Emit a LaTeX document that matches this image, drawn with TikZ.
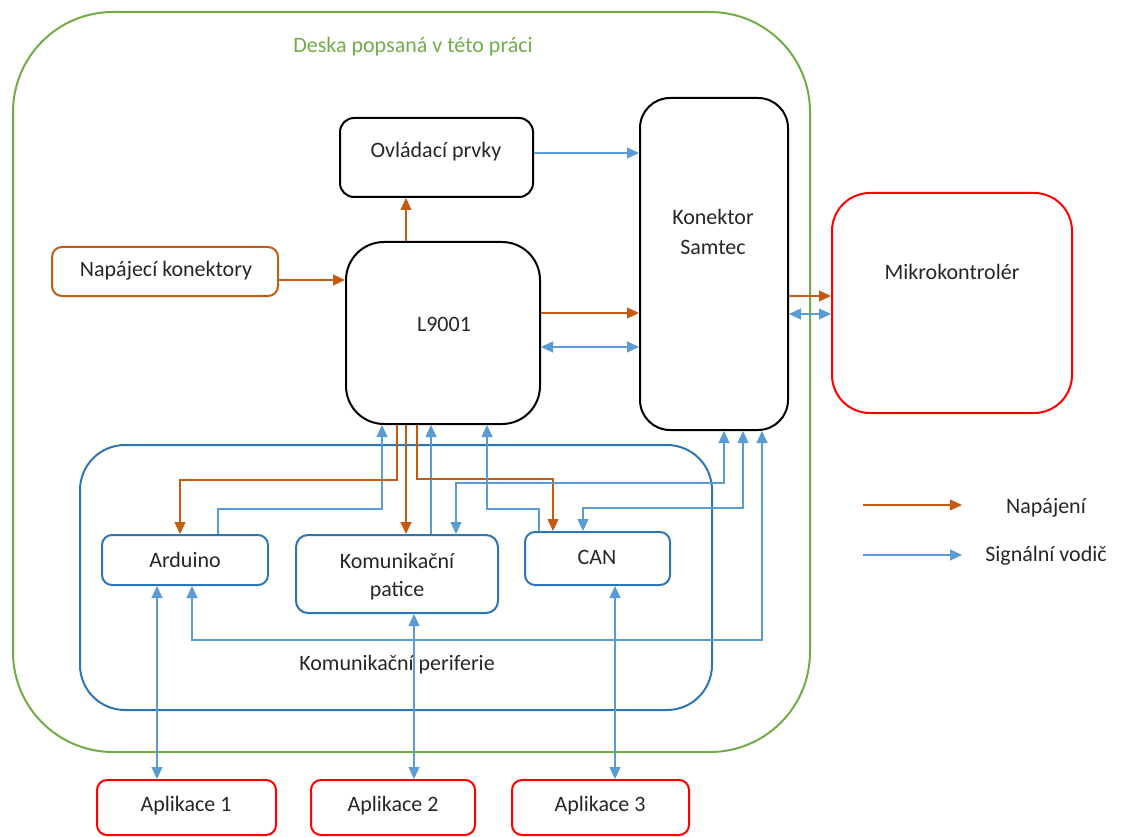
\documentclass[tikz,border=0pt]{standalone}
\usepackage{fontspec}
\setmainfont{Carlito}
\usetikzlibrary{arrows.meta}
\definecolor{txt}{HTML}{262626}
\definecolor{org}{HTML}{C55A11}
\definecolor{sig}{HTML}{5B9BD5}
\definecolor{perB}{HTML}{2E75B6}
\definecolor{grn}{HTML}{70AD47}
\definecolor{rd}{HTML}{FF0000}
\begin{document}
\begin{tikzpicture}[x=1pt,y=-1pt,
  font=\fontsize{22}{26}\selectfont, text=txt,
  box/.style={draw, rectangle, line width=2pt, inner sep=0pt},
  blk/.style={box, draw=black},
  per/.style={box, draw=perB},
  app/.style={box, draw=rd, rounded corners=10pt, minimum width=#1, minimum height=55pt},
  lbl/.style={inner sep=0pt, anchor=center},
  pw/.style={draw=org, line width=1.2pt, -{Triangle[length=12pt,width=11pt]}},
  sg/.style={draw=sig, line width=1.1pt, -{Triangle[length=12pt,width=11pt]}},
  sg2/.style={draw=sig, line width=1.1pt, {Triangle[length=12pt,width=11pt]}-{Triangle[length=12pt,width=11pt]}}]
\useasboundingbox (0,0) rectangle (1125,837);

% board
\node[box, draw=grn, rounded corners=100pt, minimum width=797pt, minimum height=740pt] (board) at (411.5,382) {};
\node[lbl, text=grn] (boardlbl) at (413,47) {Deska popsaná v této práci};

% periphery group
\node[per, rounded corners=45pt, minimum width=632pt, minimum height=265pt] (perif) at (396,577.5) {};
\node[lbl] (periflbl) at (397,665) {Komunikační periferie};

% main boxes
\node[blk, rounded corners=14pt, minimum width=193pt, minimum height=79pt] (ovl) at (436.5,157.5) {};
\node[lbl] (ovllbl) at (436,152) {Ovládací prvky};
\node[blk, rounded corners=30pt, minimum width=148pt, minimum height=332pt] (sam) at (714,264) {};
\node[lbl, align=center] (samlbl) at (713,232) {Konektor\\[4pt]Samtec};
\node[box, draw=org, rounded corners=10pt, minimum width=226pt, minimum height=49pt] (nap) at (165,271.5) {};
\node[lbl] (naplbl) at (166,271) {Napájecí konektory};
\node[blk, rounded corners=38pt, minimum width=194pt, minimum height=182pt] (l9) at (443,333) {};
\node[lbl] (l9lbl) at (444,324) {L9001};
\node[box, draw=rd, rounded corners=38pt, minimum width=240pt, minimum height=220pt] (mik) at (952,303) {};
\node[lbl] (miklbl) at (952,272) {Mikrokontrolér};

% peripherals
\node[per, rounded corners=10pt, minimum width=166pt, minimum height=50pt] (ard) at (185,560) {};
\node[lbl] (ardlbl) at (185,560) {Arduino};
\node[per, rounded corners=12pt, minimum width=202pt, minimum height=78pt] (pat) at (397,574) {};
\node[lbl, align=center] (patlbl) at (397,577) {Komunikační\\[2pt]patice};
\node[per, rounded corners=10pt, minimum width=145pt, minimum height=53pt] (can) at (597.5,558.5) {};
\node[lbl] (canlbl) at (597,557) {CAN};

% applications
\node[app=179pt] (a1) at (186.5,807.5) {};
\node[lbl] (a1lbl) at (186,806) {Aplikace 1};
\node[app=164pt] (a2) at (393,807.5) {};
\node[lbl] (a2lbl) at (393,806) {Aplikace 2};
\node[app=177pt] (a3) at (600.5,807.5) {};
\node[lbl] (a3lbl) at (600,806) {Aplikace 3};

% upper connectors
\draw[sg] (ovl.east |- 0,153) -- (sam.west |- 0,153);
\draw[pw] (406,0 |- l9.north) -- (406,0 |- ovl.south);
\draw[pw] (nap.east |- 0,280) -- (l9.west |- 0,280);
\draw[pw] (l9.east |- 0,313) -- (sam.west |- 0,313);
\draw[sg2] (l9.east |- 0,347) -- (sam.west |- 0,347);
\draw[pw] (sam.east |- 0,296) -- (mik.west |- 0,296);
\draw[sg2] (sam.east |- 0,314) -- (mik.west |- 0,314);

% lower connectors
\draw[sg] (ard.north -| 218,0) |- (382,509) -- (382,0 |- l9.south);
\draw[pw] (397,0 |- l9.south) |- (180,480) -- (180,0 |- ard.north);
\draw[pw] (406,0 |- l9.south) -- (406,0 |- pat.north);
\draw[sg] (431,0 |- pat.north) -- (431,0 |- l9.south);
\draw[pw] (417,0 |- l9.south) |- (553,479) -- (553,0 |- can.north);
\draw[sg] (539,0 |- can.north) |- (487,509) -- (487,0 |- l9.south);
\draw[sg2] (456,0 |- pat.north) |- (724,483) -- (724,0 |- sam.south);
\draw[sg2] (583,0 |- can.north) |- (743,508) -- (743,0 |- sam.south);
\draw[sg2] (192,0 |- ard.south) |- (762,640) -- (762,0 |- sam.south);
\draw[sg2] (157,0 |- ard.south) -- (157,0 |- a1.north);
\draw[sg2] (414,0 |- pat.south) -- (414,0 |- a2.north);
\draw[sg2] (615,0 |- can.south) -- (615,0 |- a3.north);

% legend
\coordinate (lgo1) at (863,505);
\coordinate (lgo2) at (962,505);
\coordinate (lgs1) at (863,555);
\coordinate (lgs2) at (962,555);
\draw[pw] (lgo1) -- (lgo2);
\draw[sg] (lgs1) -- (lgs2);
\node[lbl] (lgolbl) at (1046,508) {Napájení};
\node[lbl] (lgslbl) at (1046,556) {Signální vodič};
\end{tikzpicture}
\end{document}
